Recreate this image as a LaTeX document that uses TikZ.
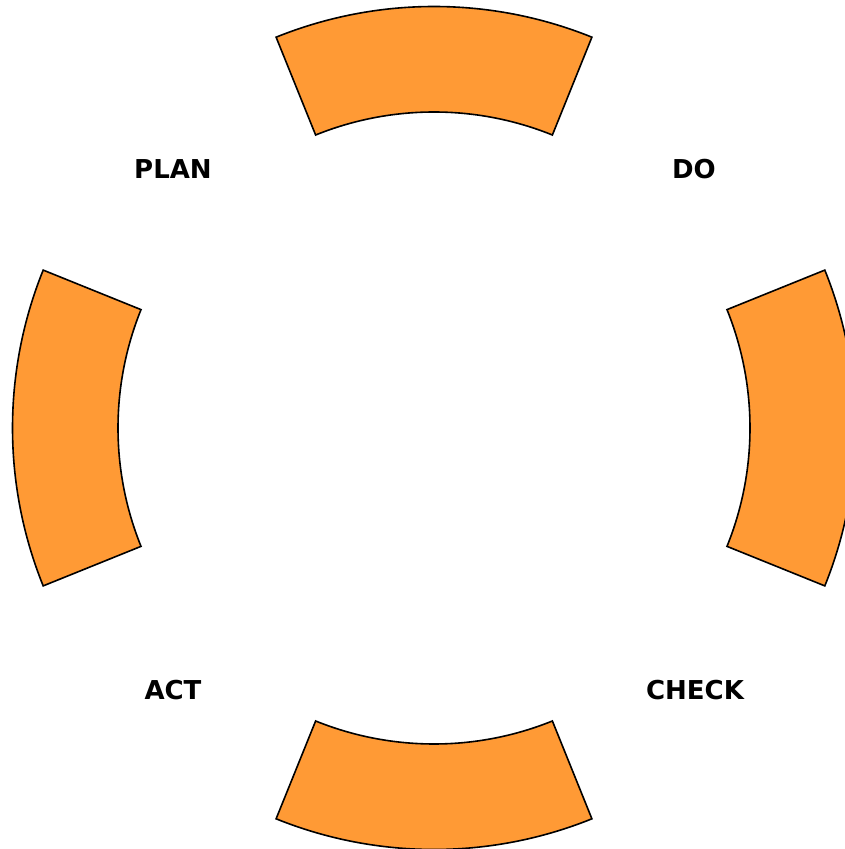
\documentclass[tikz,border=0pt]{standalone}
\usepackage{fontspec}
\setmainfont{DejaVu Sans}
\definecolor{PDCAorange}{HTML}{FF9A35}
\usetikzlibrary{positioning}

\begin{document}
\begin{tikzpicture}[
  x=1pt,y=1pt,
  seg/.style={draw=black,fill=PDCAorange,line width=1.6pt,line join=miter},
  lbl/.style={font=\fontsize{26}{31}\selectfont\bfseries,text=black}
]
\clip (0,0) rectangle (845,849);
\coordinate (c) at (434,421);
% the four ring segments
\foreach \ang in {0,90,180,270}{
  \draw[seg] ([shift={(\ang-22:316)}]c) arc[start angle=\ang-22,end angle=\ang+22,radius=316]
    -- ([shift={(\ang+22:421.5)}]c) arc[start angle=\ang+22,end angle=\ang-22,radius=421.5]
    -- cycle;
}
% labels
\node[lbl] (plan) at (173,680) {PLAN};
\node[lbl] (do) at (694,680) {DO};
\node[lbl] (check) at (695,159) {CHECK};
\node[lbl] (act) at (173,159) {ACT};
\end{tikzpicture}
\end{document}
